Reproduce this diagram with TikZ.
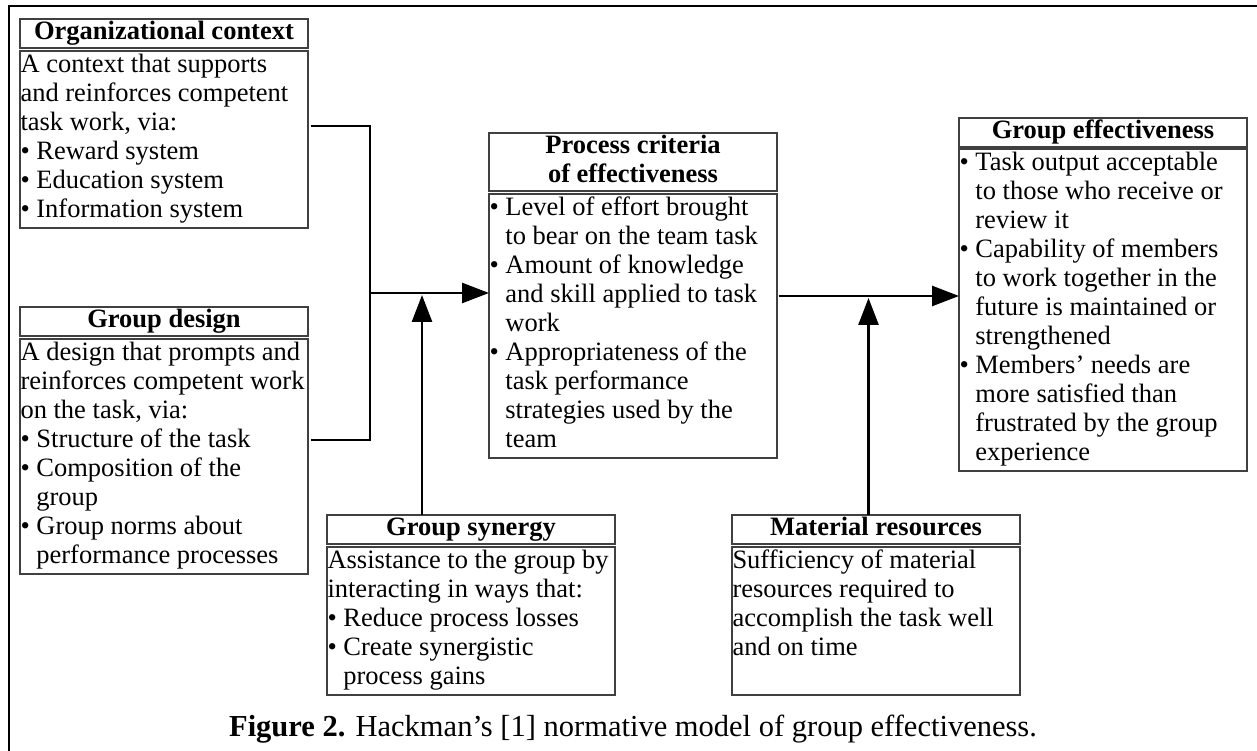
\documentclass[tikz,border=0pt]{standalone}
\usepackage{fontspec}
\setmainfont{Liberation Serif}
\usetikzlibrary{arrows.meta,positioning}
\newcommand{\bodyfont}{\fontsize{26.5}{29}\selectfont}
\newcommand{\titlefont}{\fontsize{26.5}{29}\selectfont\bfseries}
\newcommand{\bul}{\textbullet\ }
\newcommand{\cont}{\phantom{\textbullet\ }}
\tikzstyle{box}=[rectangle,draw=black!75,line width=1.3pt,inner xsep=0.5pt,text width=287pt,outer sep=0pt,execute at begin node=\strut,execute at end node=\strut]
\tikzstyle{title}=[box,inner ysep=0pt,align=flush center,font=\titlefont]
\tikzstyle{body}=[box,inner ysep=1.5pt,align=flush left,font=\bodyfont]
\tikzstyle{frame}=[line width=2pt]
\tikzstyle{link}=[line width=2.6pt]
\tikzstyle{flow}=[link,-{Triangle[length=27pt,width=20pt]}]
\begin{document}
\begin{tikzpicture}[x=1pt,y=1pt]
\useasboundingbox (0,0) rectangle (1257,751) ;
\draw [frame] (8.5,-20) |- (1280,745) ;

\node (orgtitle) [title,anchor=north west] at (20,732) {Organizational context} ;
\node (orgbody) [body,below=3pt of orgtitle] {A context that supports\\and reinforces competent\\task work, via:\\\bul Reward system\\\bul Education system\\\bul Information system} ;
\node (designtitle) [title,below=79pt of orgbody] {Group design} ;
\node (designbody) [body,below=3pt of designtitle] {A design that prompts and\\reinforces competent work\\on the task, via:\\\bul Structure of the task\\\bul Composition of the\\\cont group\\\bul Group norms about\\\cont performance processes} ;

\node (proctitle) [title,anchor=north west] at (489,618) {Process criteria\\of effectiveness} ;
\node (procbody) [body,below=3pt of proctitle] {\bul Level of effort brought\\\cont to bear on the team task\\\bul Amount of knowledge\\\cont and skill applied to task\\\cont work\\\bul Appropriateness of the\\\cont task performance\\\cont strategies used by the\\\cont team} ;

\node (efftitle) [title,anchor=north west] at (959,633) {Group effectiveness} ;
\node (effbody) [body,below=2pt of efftitle] {\bul Task output acceptable\\\cont to those who receive or\\\cont review it\\\bul Capability of members\\\cont to work together in the\\\cont future is maintained or\\\cont strengthened\\\bul Members’ needs are\\\cont more satisfied than\\\cont frustrated by the group\\\cont experience} ;

\node (syntitle) [title,anchor=north west] at (327,236) {Group synergy} ;
\node (synbody) [body,below=3pt of syntitle] {Assistance to the group by\\interacting in ways that:\\\bul Reduce process losses\\\bul Create synergistic\\\cont process gains} ;
\node (mattitle) [title,anchor=north west] at (732,236) {Material resources} ;
\node (matbody) [body,below=3pt of mattitle] {Sufficiency of material\\resources required to\\accomplish the task well\\and on time\\~} ;

\node (caption) [anchor=base,font=\fontsize{30.5}{36}\selectfont] at (633,14) {\textbf{Figure 2.} Hackman’s [1] normative model of group effectiveness.} ;

\coordinate (join) at (370,458) ;
\coordinate (synin) at (422,456) ;
\coordinate (join2) at (868.5,455) ;
\coordinate (matin) at (868.5,453) ;

\draw [link] ([xshift=2.5pt,yshift=13.5pt]orgbody.east) -| (join) ;
\draw [link] ([xshift=2.5pt,yshift=16.5pt]designbody.east) -| (join) ;
\draw [flow] (join) -- (join -| procbody.west) ;
\draw [flow] (syntitle.north -| synin) -- (synin) ;
\draw [flow] ([xshift=1.5pt]procbody.east |- join2) -- (effbody.west |- join2) ;
\draw [flow] (mattitle.north -| matin) -- (matin) ;

\end{tikzpicture}
\end{document}
